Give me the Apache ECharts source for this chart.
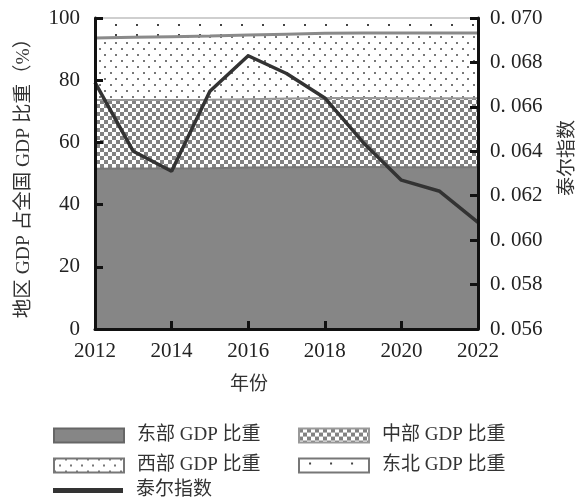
<!DOCTYPE html>
<html><head><meta charset="utf-8">
<script src="https://cdn.jsdelivr.net/npm/echarts@6/dist/echarts.min.js"></script>
<style>html,body{margin:0;padding:0;background:#fff}#c{width:583px;height:502px}</style>
</head><body><div id="c"></div>
<script>
const years = ['2012','2013','2014','2015','2016','2017','2018','2019','2020','2021','2022'];
const eastShare    = [51.5, 51.6, 51.6, 51.7, 51.9, 52.0, 52.1, 52.1, 52.0, 52.0, 52.0];
const centralShare = [22.1, 22.0, 22.0, 22.0, 22.0, 22.1, 22.2, 22.2, 22.2, 22.2, 22.2];
const westShare    = [20.0, 20.2, 20.4, 20.5, 20.6, 20.7, 20.8, 20.9, 21.0, 21.0, 21.0];
const northeastShare = [6.4, 6.2, 6.0, 5.8, 5.5, 5.2, 4.9, 4.8, 4.8, 4.8, 4.8];
const theilIndex = [0.0671, 0.0640, 0.0631, 0.0667, 0.0683, 0.0675, 0.0664, 0.0644, 0.0627, 0.0622, 0.0608];
const seriesNames = ['东部GDP比重','中部GDP比重','西部GDP比重','东北GDP比重','泰尔指数'];
const legendLabels = ['东部 GDP 比重','中部 GDP 比重','西部 GDP 比重','东北 GDP 比重','泰尔指数'];

function makePattern(w, h, draw) {
  const c = document.createElement('canvas');
  c.width = w; c.height = h;
  const g = c.getContext('2d');
  g.fillStyle = '#fff'; g.fillRect(0, 0, w, h);
  draw(g);
  return { image: c, repeat: 'repeat' };
}
const checker = makePattern(8, 8, g => { g.fillStyle = '#828282'; g.fillRect(0,0,4,4); g.fillRect(4,4,4,4); });
const dots = makePattern(11, 12, g => { g.fillStyle = '#777'; g.fillRect(0,0,2,2); g.fillRect(5,6,2,2); });
const sparse = makePattern(21, 10, g => { g.fillStyle = '#444'; g.fillRect(10,4,2,2); });

const font = '"Liberation Serif", "Noto Sans CJK SC", serif';
const chart = echarts.init(document.getElementById('c'), null, {renderer: 'canvas'});

function areaSeries(name, data, fill, lineColor, lw) {
  return {
    name, type: 'line', stack: 'gdp', data, symbol: 'none',
    itemStyle: { color: fill },
    lineStyle: { color: lineColor, width: lw },
    areaStyle: { color: fill, opacity: 1 },
    emphasis: { disabled: true }
  };
}
function legendAt(i, left, top, h, border) {
  return {
    data: [seriesNames[i]], left, top, padding: 0, icon: 'rect', itemWidth: 70, itemHeight: h,
    formatter: () => legendLabels[i],
    itemStyle: border ? { borderColor: border, borderWidth: 2 } : { borderWidth: 0 },
    textStyle: { fontFamily: font, fontSize: 19, color: '#333', padding: [0,0,0,8] },
    selectedMode: false
  };
}
const axisLineStyle = { color: '#111', width: 3 };

chart.setOption({
  animation: false,
  grid: { left: 95, right: 105, top: 18, bottom: 173 },
  legend: [
    legendAt(0, 53, 426, 14, '#666'),
    legendAt(1, 298, 426, 14, '#999'),
    legendAt(2, 53, 456, 14, '#777'),
    legendAt(3, 298, 456, 14, '#777'),
    legendAt(4, 53, 481, 5, null)
  ],
  xAxis: {
    type: 'category', data: years, boundaryGap: false, z: 10,
    axisLine: { lineStyle: axisLineStyle },
    axisTick: { inside: true, length: 8, interval: 1, lineStyle: axisLineStyle },
    axisLabel: { interval: 1, margin: 12, fontFamily: font, fontSize: 21, color: '#222' },
    splitLine: { show: false }
  },
  yAxis: [
    {
      type: 'value', min: 0, max: 100, interval: 20, z: 10,
      name: '地区 GDP 占全国 GDP 比重（%）', nameLocation: 'middle', nameGap: 61,
      nameTextStyle: { fontFamily: font, fontSize: 19.5, color: '#333' },
      axisLine: { show: true, lineStyle: axisLineStyle },
      axisTick: { show: true, inside: true, length: 8, lineStyle: axisLineStyle },
      axisLabel: { margin: 15, fontFamily: font, fontSize: 21, color: '#222' },
      splitLine: { show: false }
    },
    {
      type: 'value', min: 0.056, max: 0.070, interval: 0.002, position: 'right', z: 10,
      axisLine: { show: true, lineStyle: axisLineStyle },
      axisTick: { show: true, inside: true, length: 8, lineStyle: axisLineStyle },
      axisLabel: { margin: 12, fontFamily: font, fontSize: 21, color: '#222',
        formatter: v => v.toFixed(3).replace('.', '. ') },
      splitLine: { show: false }
    }
  ],
  graphic: [
    { type: 'text', x: 249, y: 385, style: { text: '年份', font: '19px ' + font, fill: '#333', align: 'center', verticalAlign: 'middle' } },
    { type: 'text', x: 568, y: 158, rotation: Math.PI / 2, style: { text: '泰尔指数', font: '19px ' + font, fill: '#333', align: 'center', verticalAlign: 'middle' } }
  ],
  series: [
    areaSeries(seriesNames[0], eastShare, '#868686', '#777', 2),
    areaSeries(seriesNames[1], centralShare, checker, '#999', 2),
    areaSeries(seriesNames[2], westShare, dots, '#8a8a8a', 3),
    areaSeries(seriesNames[3], northeastShare, sparse, '#cfcfcf', 2),
    {
      name: seriesNames[4], type: 'line', yAxisIndex: 1, data: theilIndex, symbol: 'none', z: 5,
      itemStyle: { color: '#333' }, lineStyle: { color: '#333', width: 3.5 },
      emphasis: { disabled: true }
    }
  ]
});
</script></body></html>
